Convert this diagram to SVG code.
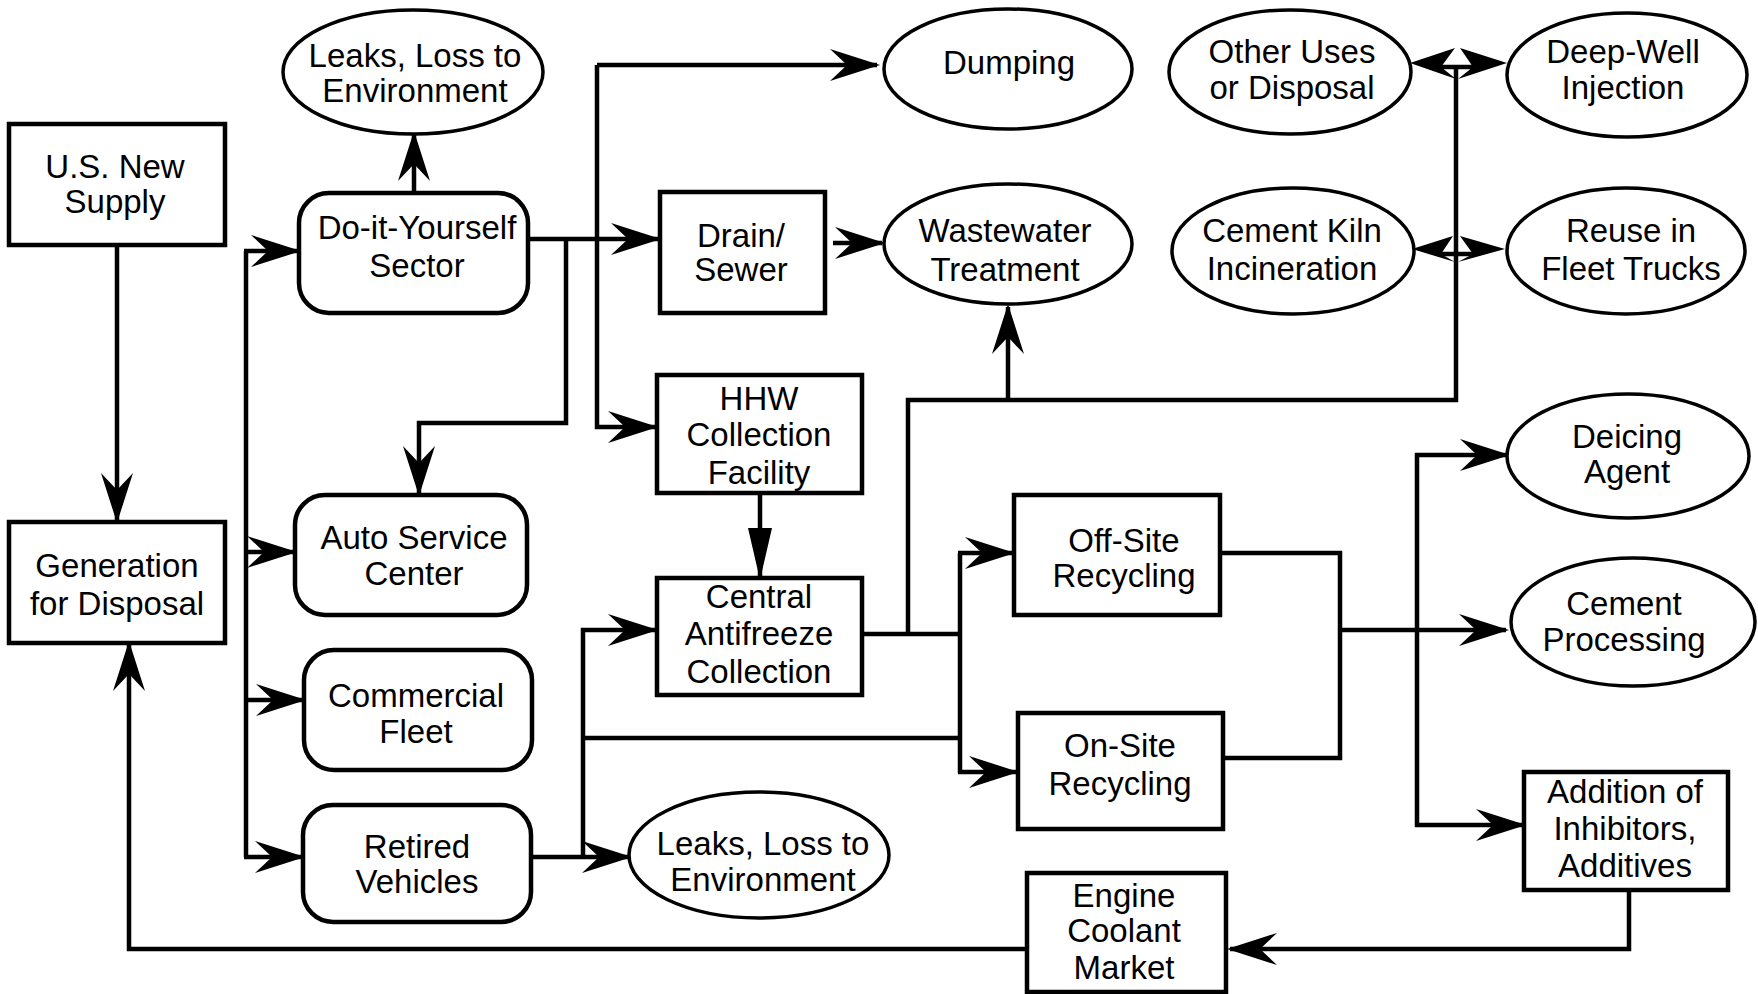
<svg xmlns="http://www.w3.org/2000/svg" width="1758" height="994" viewBox="0 0 1758 994">
<style>
.box{fill:#fff;stroke:#000;stroke-width:4.5}
.ell{fill:#fff;stroke:#000;stroke-width:3.5}
.ln{fill:none;stroke:#000;stroke-width:4.5}
.a{marker-end:url(#arr)}
.t{marker-end:url(#tri)}
text{font-family:"Liberation Sans",Arial,Helvetica,sans-serif;font-size:33px;text-anchor:middle;fill:#000}
</style>
<defs>
<marker id="arr" markerUnits="userSpaceOnUse" markerWidth="60" markerHeight="40" refX="47" refY="20" orient="auto" overflow="visible">
<path d="M50,20 L0,4 L17,20 L0,36 Z" fill="#000"/>
</marker>
<marker id="tri" markerUnits="userSpaceOnUse" markerWidth="60" markerHeight="30" refX="49" refY="12" orient="auto" overflow="visible">
<path d="M52,12 L0,0 L0,24 Z" fill="#000"/>
</marker>
</defs>
<rect width="1758" height="994" fill="#fff"/>

<g id="connectors">
<path class="ln a" d="M117,246 V520"/>
<path class="ln a" d="M1027,949 H129 V644"/>
<path class="ln" d="M246,251 V857"/>
<path class="ln a" d="M244,251 H298"/>
<path class="ln a" d="M246,552 H294"/>
<path class="ln a" d="M246,700 H303"/>
<path class="ln a" d="M244,857 H302"/>
<path class="ln a" d="M414,193 V134"/>
<path class="ln a" d="M528,239 H658"/>
<path class="ln a" d="M597,65 H877"/>
<path class="ln a" d="M597,65 V427 H655"/>
<path class="ln a" d="M566,239 V423 H419 V493"/>
<path class="ln a" d="M833,243 H882"/>
<path class="ln t" d="M760,493 V577"/>
<path class="ln" d="M862,634 H960"/>
<path class="ln" d="M960,553 V773"/>
<path class="ln a" d="M958,553 H1012"/>
<path class="ln a" d="M958,772 H1016"/>
<path class="ln" d="M908,634 V400 H1458"/>
<path class="ln a" d="M1008,400 V307"/>
<path class="ln" d="M1456,402 V67"/>
<path class="ln a" d="M531,857 H629"/>
<path class="ln a" d="M583,857 V630 H655"/>
<path class="ln" d="M585,738 H960"/>
<path class="ln" d="M1222,553 H1340 V758 H1223"/>
<path class="ln a" d="M1340,630 H1506"/>
<path class="ln" d="M1417,453 V827"/>
<path class="ln a" d="M1415,455 H1507"/>
<path class="ln a" d="M1415,825 H1523"/>
<path class="ln a" d="M1629,890 V949 H1230"/>
<g id="split-top">
<polygon points="1410,63 1455,48 1441,67 1456,79" fill="#000"/>
<polygon points="1507,63 1460,48 1473,67 1458,79" fill="#000"/>
<path class="ln" d="M1441,67 H1473" stroke-width="4"/>
</g>
<g id="split-mid">
<polygon points="1412,249 1453,236 1441,254 1455,262" fill="#000"/>
<polygon points="1505,249 1460,236 1473,254 1458,262" fill="#000"/>
<path class="ln" d="M1441,254 H1473" stroke-width="4"/>
</g>
</g>

<g id="n-supply"><rect class="box" x="9" y="124" width="216" height="121"/><text><tspan x="115" y="178">U.S. New</tspan><tspan x="115" y="213">Supply</tspan></text></g>
<g id="n-generation"><rect class="box" x="9" y="522" width="216" height="121"/><text><tspan x="117" y="577">Generation</tspan><tspan x="117" y="615">for Disposal</tspan></text></g>
<g id="n-diy"><rect class="box" x="299" y="193" width="229" height="120" rx="30"/><text><tspan x="417" y="239">Do-it-Yourself</tspan><tspan x="417" y="277">Sector</tspan></text></g>
<g id="n-auto"><rect class="box" x="295" y="495" width="232" height="120" rx="30"/><text><tspan x="414" y="549">Auto Service</tspan><tspan x="414" y="585">Center</tspan></text></g>
<g id="n-fleet"><rect class="box" x="304" y="650" width="228" height="120" rx="30"/><text><tspan x="416" y="707">Commercial</tspan><tspan x="416" y="743">Fleet</tspan></text></g>
<g id="n-retired"><rect class="box" x="303" y="805" width="228" height="117" rx="30"/><text><tspan x="417" y="858">Retired</tspan><tspan x="417" y="893">Vehicles</tspan></text></g>
<g id="n-drain"><rect class="box" x="660" y="192" width="165" height="121"/><text><tspan x="741" y="247">Drain/</tspan><tspan x="741" y="281">Sewer</tspan></text></g>
<g id="n-hhw"><rect class="box" x="657" y="375" width="205" height="118"/><text><tspan x="759" y="410">HHW</tspan><tspan x="759" y="446">Collection</tspan><tspan x="759" y="484">Facility</tspan></text></g>
<g id="n-central"><rect class="box" x="657" y="578" width="205" height="117"/><text><tspan x="759" y="608">Central</tspan><tspan x="759" y="645">Antifreeze</tspan><tspan x="759" y="683">Collection</tspan></text></g>
<g id="n-offsite"><rect class="box" x="1014" y="495" width="206" height="120"/><text><tspan x="1124" y="552">Off-Site</tspan><tspan x="1124" y="587">Recycling</tspan></text></g>
<g id="n-onsite"><rect class="box" x="1018" y="713" width="205" height="116"/><text><tspan x="1120" y="757">On-Site</tspan><tspan x="1120" y="795">Recycling</tspan></text></g>
<g id="n-engine"><rect class="box" x="1027" y="873" width="199" height="119"/><text><tspan x="1124" y="907">Engine</tspan><tspan x="1124" y="942">Coolant</tspan><tspan x="1124" y="979">Market</tspan></text></g>
<g id="n-addition"><rect class="box" x="1524" y="772" width="204" height="118"/><text><tspan x="1625" y="803">Addition of</tspan><tspan x="1625" y="840">Inhibitors,</tspan><tspan x="1625" y="877">Additives</tspan></text></g>

<g id="n-leaks1"><ellipse class="ell" cx="413" cy="72" rx="130" ry="62"/><text><tspan x="415" y="67">Leaks, Loss to</tspan><tspan x="415" y="102">Environment</tspan></text></g>
<g id="n-leaks2"><ellipse class="ell" cx="759" cy="855" rx="130" ry="63"/><text><tspan x="763" y="855">Leaks, Loss to</tspan><tspan x="763" y="891">Environment</tspan></text></g>
<g id="n-dumping"><ellipse class="ell" cx="1008" cy="69" rx="124" ry="60"/><text x="1009" y="74">Dumping</text></g>
<g id="n-wastewater"><ellipse class="ell" cx="1008" cy="244" rx="124" ry="60"/><text><tspan x="1005" y="242">Wastewater</tspan><tspan x="1005" y="281">Treatment</tspan></text></g>
<g id="n-other"><ellipse class="ell" cx="1290" cy="72" rx="121" ry="62"/><text><tspan x="1292" y="63">Other Uses</tspan><tspan x="1292" y="99">or Disposal</tspan></text></g>
<g id="n-deepwell"><ellipse class="ell" cx="1627" cy="75" rx="120" ry="62"/><text><tspan x="1623" y="63">Deep-Well</tspan><tspan x="1623" y="99">Injection</tspan></text></g>
<g id="n-kiln"><ellipse class="ell" cx="1293" cy="251" rx="121" ry="63"/><text><tspan x="1292" y="242">Cement Kiln</tspan><tspan x="1292" y="280">Incineration</tspan></text></g>
<g id="n-reuse"><ellipse class="ell" cx="1626" cy="251" rx="119" ry="63"/><text><tspan x="1631" y="242">Reuse in</tspan><tspan x="1631" y="280">Fleet Trucks</tspan></text></g>
<g id="n-deicing"><ellipse class="ell" cx="1628" cy="456" rx="121" ry="62"/><text><tspan x="1627" y="448">Deicing</tspan><tspan x="1627" y="483">Agent</tspan></text></g>
<g id="n-cementproc"><ellipse class="ell" cx="1633" cy="622" rx="122" ry="64"/><text><tspan x="1624" y="615">Cement</tspan><tspan x="1624" y="651">Processing</tspan></text></g>
</svg>
